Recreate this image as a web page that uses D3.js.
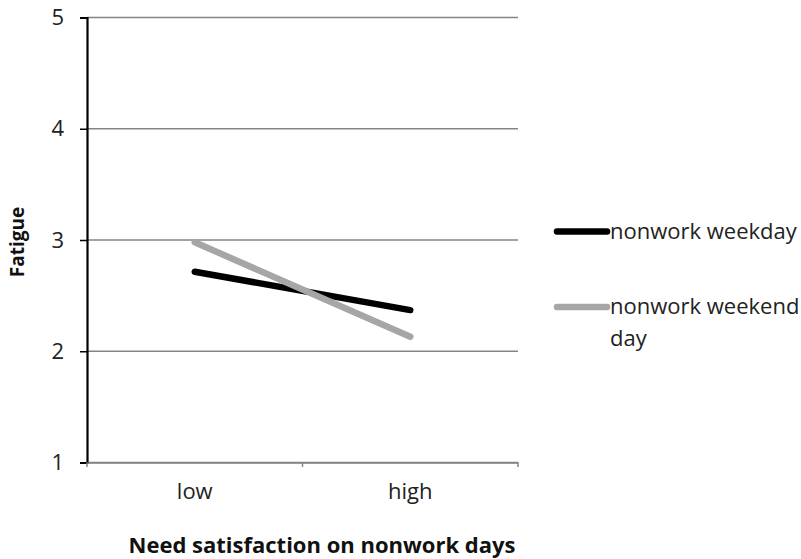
<!DOCTYPE html>
<html><head><meta charset="utf-8">
<script src="https://cdn.jsdelivr.net/npm/d3@7"></script>
<style>body{margin:0;background:#fff}svg{display:block}text{font-family:"Open Sans",sans-serif}</style>
</head><body><svg id="c" width="801" height="559"></svg>
<script>
const categories = ["low", "high"];
const seriesNames = ["nonwork weekday", "nonwork weekend day"];
const weekday = [2.715, 2.37];
const weekend = [2.98, 2.13];
const yTicks = [1, 2, 3, 4, 5];
const colors = ["#000000", "#a6a6a6"];

const svg = d3.select("#c");
const x = d3.scaleBand().domain(categories).range([87, 518]);
const y = d3.scaleLinear().domain([1, 5]).range([462.5, 17.5]);

// gridlines
svg.append("g").selectAll("line").data(yTicks).join("line")
  .attr("x1", 87).attr("x2", 518)
  .attr("y1", d => y(d)).attr("y2", d => y(d))
  .attr("stroke", "#858585").attr("stroke-width", 1.6);

// y axis
const ya = svg.append("g").attr("transform", "translate(87,0)")
  .call(d3.axisLeft(y).tickValues(yTicks).tickSize(7).tickPadding(16).tickFormat(d3.format("d")));
ya.select(".domain").attr("stroke", "#000").attr("stroke-width", 2.2);
ya.selectAll(".tick line").attr("stroke", "#000").attr("stroke-width", 1.5);
ya.selectAll("text").attr("font-size", 22).attr("fill", "#222").attr("font-family", "Open Sans");

// x axis
const xa = svg.append("g").attr("transform", "translate(0,462.5)")
  .call(d3.axisBottom(x).tickSize(0).tickPadding(21));
xa.select(".domain").attr("stroke", "#858585").attr("stroke-width", 1.6);
xa.selectAll("text").attr("font-size", 22).attr("fill", "#222").attr("font-family", "Open Sans");
const xTickPos = [x.range()[0], x(categories[1]), x.range()[1]];
svg.append("g").selectAll("line").data(xTickPos).join("line")
  .attr("x1", d => d).attr("x2", d => d).attr("y1", 462.5).attr("y2", 467)
  .attr("stroke", "#858585").attr("stroke-width", 1.5);

// lines
const line = d3.line().x((d, i) => x(categories[i]) + x.bandwidth() / 2).y(d => y(d));
[weekday, weekend].forEach((s, i) => {
  svg.append("path").datum(s).attr("d", line)
    .attr("fill", "none").attr("stroke", colors[i]).attr("stroke-width", 6.5).attr("stroke-linecap", "round");
});

// legend
const lg = svg.append("g");
const legendY = [231.5, 307];
seriesNames.forEach((n, i) => {
  lg.append("line").attr("x1", 557).attr("x2", 607).attr("y1", legendY[i]).attr("y2", legendY[i])
    .attr("stroke", colors[i]).attr("stroke-width", 6.5).attr("stroke-linecap", "round");
});
lg.append("text").attr("x", 610).attr("y", 239).attr("font-size", 22).attr("fill", "#222").text("nonwork weekday");
const t2 = lg.append("text").attr("x", 610).attr("y", 314).attr("font-size", 22).attr("fill", "#222");
t2.append("tspan").attr("x", 610).text("nonwork weekend");
t2.append("tspan").attr("x", 610).attr("dy", 32).text("day");

// axis titles
svg.append("text").attr("x", 322).attr("y", 553).attr("text-anchor", "middle")
  .attr("font-size", 22).attr("font-weight", "bold").attr("fill", "#111")
  .text("Need satisfaction on nonwork days");
svg.append("text").attr("transform", "translate(24,242) rotate(-90)").attr("text-anchor", "middle")
  .attr("font-size", 19).attr("font-weight", "bold").attr("fill", "#111").text("Fatigue");
</script></body></html>
